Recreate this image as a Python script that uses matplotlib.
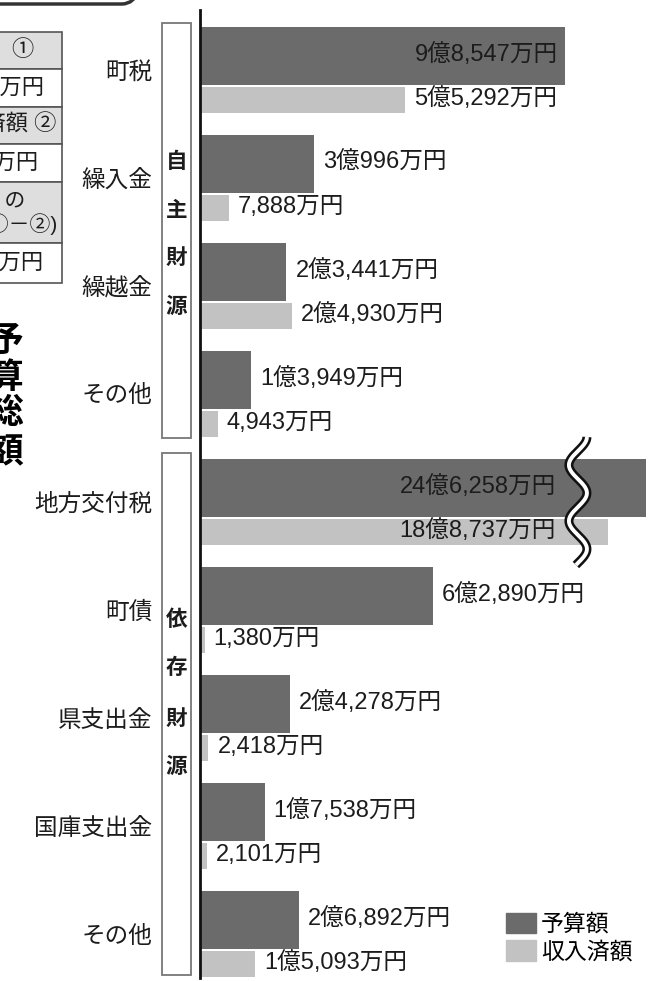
import numpy as np
import matplotlib
matplotlib.use("Agg")
import matplotlib.pyplot as plt
from matplotlib.patches import Rectangle, FancyBboxPatch, Patch

# 数字は Liberation Sans、漢字かなは Noto Sans CJK JP
plt.rcParams['font.family'] = ['Liberation Sans', 'Noto Sans CJK JP', 'DejaVu Sans']

# 単位: 万円
categories = ["町税", "繰入金", "繰越金", "その他",
              "地方交付税", "町債", "県支出金", "国庫支出金", "その他"]
budget = [98547, 30996, 23441, 13949, 246258, 62890, 24278, 17538, 26892]
received = [55292, 7888, 24930, 4943, 188737, 1380, 2418, 2101, 15093]
# 省略して描く棒（波線で切る）の表示上の長さ
shown_cap = {4: (120400, 110100)}
BREAK_AT = 102000

DARK = "#6b6b6b"
LIGHT = "#c2c2c2"
INK = "#1c1c1c"
W, H = 661, 981


def yen(v):
    oku, man = divmod(v, 10000)
    if oku:
        return f"{oku}億{man:,}万円"
    return f"{man:,}万円"


fig = plt.figure(figsize=(W / 100, H / 100), dpi=100)
fig.patch.set_facecolor("white")

# 飾り用の全面axes (ピクセル座標)
bg = fig.add_axes([0, 0, 1, 1])
bg.set_xlim(0, W)
bg.set_ylim(H, 0)
bg.axis("off")

# 左上の枠の角
bg.add_patch(FancyBboxPatch((-60, -80), 206, 84,
                            boxstyle="round,pad=0,rounding_size=24",
                            fc="none", ec="#333333", lw=2.5))

# 左の表（切れている）
rows = [32, 69, 107, 144, 182, 243, 283]
for k in range(len(rows) - 1):
    fc = "#dedede" if k % 2 == 0 else "white"
    bg.add_patch(Rectangle((-10, rows[k]), 72, rows[k + 1] - rows[k],
                           fc=fc, ec="#555555", lw=1.2))
total_b = sum(budget)
total_r = sum(received)
tfs = 16
bg.text(34, 51, "予算額　①", ha="right", va="center", fontsize=tfs, color=INK)
bg.text(44, 88, yen(total_b), ha="right", va="center", fontsize=tfs, color=INK)
bg.text(56, 125, "収入済額 ②", ha="right", va="center", fontsize=tfs, color=INK)
bg.text(38, 163, yen(total_r), ha="right", va="center", fontsize=tfs, color=INK)
bg.text(25, 201, "未収入額　の", ha="right", va="center", fontsize=tfs - 1, color=INK)
bg.text(57, 224, "差額(①－②)", ha="right", va="center", fontsize=tfs - 1, color=INK)
bg.text(44, 263, yen(total_b - total_r), ha="right", va="center", fontsize=tfs, color=INK)

# 予算総額（縦書き）
for ch, yy in zip("予算総額", [342, 378, 414, 452]):
    bg.text(23, yy, ch, ha="right", va="center", fontsize=25,
            fontweight="bold", color="black")

# 財源の枠
groups = [("自主財源", 23, 438, [163, 212, 258, 307]),
          ("依存財源", 453, 975, [620, 668, 719, 767])]
for name, y0, y1, ys in groups:
    bg.add_patch(Rectangle((162, y0), 29, y1 - y0, fc="white",
                           ec="#777777", lw=1.3))
    for ch, yy in zip(name, ys):
        bg.text(176.5, yy, ch, ha="center", va="center", fontsize=15.5,
                fontweight="bold", color=INK)

# 棒グラフ
ax = fig.add_axes([199.5 / W, 3 / H, (W - 199.5) / W, 968 / H])
ax.set_facecolor("none")
ax.set_xlim(0, (W - 199.5) / 0.00371)
ax.set_ylim((978 - 27) / 108, (10 - 27) / 108)

n = len(categories)
pos = np.arange(n)
d_h, l_h = 58 / 108, 26 / 108
d_c, l_c = 29 / 108, 73 / 108

b_show = [shown_cap[i][0] if i in shown_cap else v for i, v in enumerate(budget)]
r_show = [shown_cap[i][1] if i in shown_cap else v for i, v in enumerate(received)]

ax.barh(pos + d_c, b_show, height=d_h, color=DARK, label="予算額")
ax.barh(pos + l_c, r_show, height=l_h, color=LIGHT, label="収入済額")

fs = 17
for i in range(n):
    for val, show, yc in [(budget[i], b_show[i], d_c), (received[i], r_show[i], l_c)]:
        if i in shown_cap:
            ax.annotate(yen(val), (BREAK_AT, i + yc), xytext=(-22, 1),
                        textcoords="offset pixels", ha="right", va="center",
                        fontsize=fs, color=INK)
        elif show > 70000:
            ax.annotate(yen(val), (show, i + yc), xytext=(-7, 1),
                        textcoords="offset pixels", ha="right", va="center",
                        fontsize=fs, color=INK)
        else:
            ax.annotate(yen(val), (show, i + yc), xytext=(9, 1),
                        textcoords="offset pixels", ha="left", va="center",
                        fontsize=fs, color=INK)

# 波線（省略記号）
yy = np.linspace((437 - 27) / 108, (565 - 27) / 108, 200)
xx = BREAK_AT + 9 / 0.00371 * np.cos(2 * np.pi * (yy - yy[0]) * 108 / 56)
ax.plot(xx, yy, color="#111111", lw=6.5, solid_capstyle="butt", clip_on=False, zorder=5)
ax.plot(xx, yy, color="white", lw=2.8, solid_capstyle="butt", clip_on=False, zorder=6)

ax.set_yticks(pos + (113 - 27) / 2 / 108)
ax.set_yticklabels(categories, fontsize=fs, color=INK)
ax.tick_params(axis="y", length=0, pad=34)
ax.set_xticks([])
for s in ["top", "right", "bottom"]:
    ax.spines[s].set_visible(False)
ax.spines["left"].set_linewidth(2.0)
ax.spines["left"].set_color("#111111")

fig.legend(handles=[Patch(color=DARK, label="予算額"), Patch(color=LIGHT, label="収入済額")],
           loc="lower right", bbox_to_anchor=(644 / W, 6 / H), frameon=False,
           fontsize=16.5, handlelength=1.35, handleheight=1.0, handletextpad=0.2,
           labelspacing=0.2, borderpad=0)

fig.savefig("out.png", dpi=100)
